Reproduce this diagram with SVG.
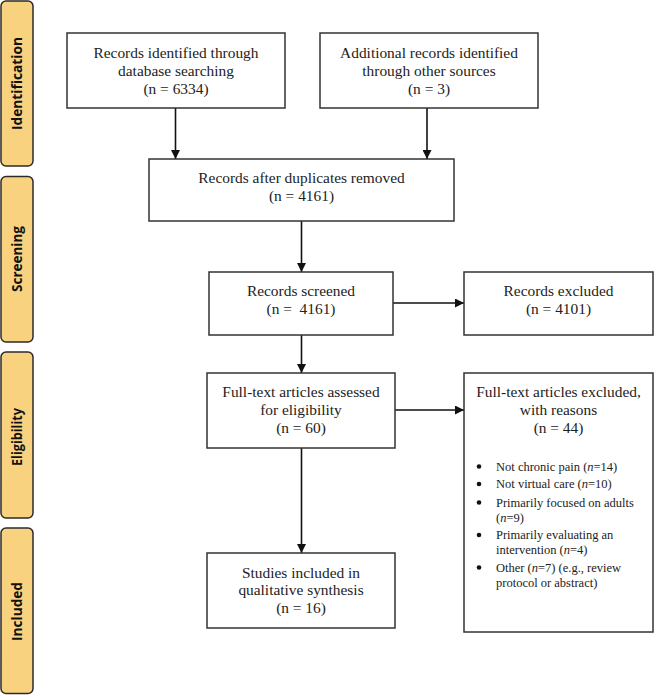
<svg xmlns="http://www.w3.org/2000/svg" width="654" height="695" viewBox="0 0 654 695">
<style>
.bg{fill:#ffffff}
.phase rect{fill:#F9D27F;stroke:#2b2b2b;stroke-width:1.5}
.phase text{font-family:"Open Sans","DejaVu Sans",sans-serif;font-weight:700;font-size:13.5px;fill:#111;text-anchor:middle;dominant-baseline:central}
.box rect{fill:#fff;stroke:#333;stroke-width:1.5}
.box text{font-family:'Liberation Serif','Tinos','DejaVu Serif',serif;font-size:15.4px;fill:#222;text-anchor:middle}
.box text.li{font-size:12.5px;text-anchor:start}
.edge{stroke:#111;stroke-width:1.6;fill:none;marker-end:url(#ah)}
</style>
<defs>
<marker id="ah" viewBox="0 0 10 10" refX="10" refY="5" markerWidth="9" markerHeight="9" markerUnits="userSpaceOnUse" orient="auto">
<path d="M0,0 L10,5 L0,10 z" fill="#111"/>
</marker>
</defs>
<rect class="bg" x="0" y="0" width="654" height="695"/>

<g id="phase-identification" class="phase">
<rect x="1" y="1" width="32" height="165" rx="5"/>
<text transform="translate(17,83.5) rotate(-90)" textLength="93" lengthAdjust="spacingAndGlyphs">Identification</text>
</g>
<g id="phase-screening" class="phase">
<rect x="1" y="176.5" width="32" height="165.5" rx="5"/>
<text transform="translate(17,259) rotate(-90)" textLength="66" lengthAdjust="spacingAndGlyphs">Screening</text>
</g>
<g id="phase-eligibility" class="phase">
<rect x="1" y="352" width="32" height="166" rx="5"/>
<text transform="translate(17,437) rotate(-90)" textLength="58" lengthAdjust="spacingAndGlyphs">Eligibility</text>
</g>
<g id="phase-included" class="phase">
<rect x="1" y="528" width="32" height="165.5" rx="5"/>
<text transform="translate(17,611.5) rotate(-90)" textLength="59" lengthAdjust="spacingAndGlyphs">Included</text>
</g>

<g id="connectors">
<line class="edge" x1="175.5" y1="108" x2="175.5" y2="159"/>
<line class="edge" x1="427" y1="108" x2="427" y2="159"/>
<line class="edge" x1="301.5" y1="221" x2="301.5" y2="272"/>
<line class="edge" x1="393" y1="303" x2="464" y2="303"/>
<line class="edge" x1="301.5" y1="335" x2="301.5" y2="373"/>
<line class="edge" x1="395" y1="410" x2="464" y2="410"/>
<line class="edge" x1="301.5" y1="448" x2="301.5" y2="553"/>
</g>

<g id="node-database" class="box">
<rect x="67" y="33" width="218" height="75"/>
<text x="176" y="58">Records identified through</text>
<text x="176" y="76">database searching</text>
<text x="176" y="94">(n = 6334)</text>
</g>
<g id="node-other" class="box">
<rect x="320" y="33" width="218" height="75"/>
<text x="429" y="58">Additional records identified</text>
<text x="429" y="76">through other sources</text>
<text x="429" y="94">(n = 3)</text>
</g>
<g id="node-duplicates" class="box">
<rect x="149" y="159" width="305" height="62"/>
<text x="301.5" y="183">Records after duplicates removed</text>
<text x="301.5" y="201">(n = 4161)</text>
</g>
<g id="node-screened" class="box">
<rect x="209" y="272" width="184" height="63"/>
<text x="301" y="296">Records screened</text>
<text x="301" y="314" xml:space="preserve">(n =  4161)</text>
</g>
<g id="node-excluded" class="box">
<rect x="464" y="272" width="189" height="63"/>
<text x="558.5" y="296">Records excluded</text>
<text x="558.5" y="314">(n = 4101)</text>
</g>
<g id="node-fulltext" class="box">
<rect x="207" y="373" width="188" height="75"/>
<text x="301" y="397">Full-text articles assessed</text>
<text x="301" y="415">for eligibility</text>
<text x="301" y="433">(n = 60)</text>
</g>
<g id="node-reasons" class="box">
<rect x="464" y="373" width="189" height="259"/>
<text x="558.5" y="397">Full-text articles excluded,</text>
<text x="558.5" y="415">with reasons</text>
<text x="558.5" y="433">(n = 44)</text>
<g fill="#111">
<circle cx="479" cy="466.5" r="2.3"/>
<circle cx="479" cy="484" r="2.3"/>
<circle cx="479" cy="502.5" r="2.3"/>
<circle cx="479" cy="535" r="2.3"/>
<circle cx="479" cy="567.5" r="2.3"/>
</g>
<text class="li" x="496" y="471">Not chronic pain (<tspan font-style="italic">n</tspan>=14)</text>
<text class="li" x="496" y="488">Not virtual care (<tspan font-style="italic">n</tspan>=10)</text>
<text class="li" x="496" y="507">Primarily focused on adults</text>
<text class="li" x="496" y="522">(<tspan font-style="italic">n</tspan>=9)</text>
<text class="li" x="496" y="539">Primarily evaluating an</text>
<text class="li" x="496" y="554">intervention (<tspan font-style="italic">n</tspan>=4)</text>
<text class="li" x="496" y="572">Other (<tspan font-style="italic">n</tspan>=7) (e.g., review</text>
<text class="li" x="496" y="587">protocol or abstract)</text>
</g>
<g id="node-included" class="box">
<rect x="207" y="553" width="188" height="75"/>
<text x="301" y="578">Studies included in</text>
<text x="301" y="595">qualitative synthesis</text>
<text x="301" y="613">(n = 16)</text>
</g>
</svg>
